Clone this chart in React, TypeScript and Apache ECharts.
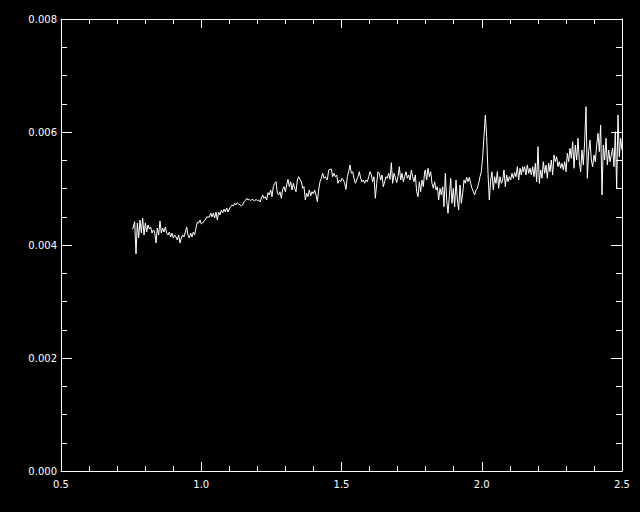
import React, { useEffect, useRef } from "react";
import * as echarts from "echarts";

// Wavelength (x) and flux (y), split into segments
const waveA = [0.7555, 0.7626, 0.7674, 0.7721, 0.7769, 0.7816, 0.7864, 0.7911, 0.7959, 0.8007, 0.8054, 0.8102, 0.8149, 0.8197, 0.8244, 0.8292, 0.8339, 0.8387, 0.8434, 0.8482, 0.8529, 0.8577, 0.8624, 0.8672, 0.8720, 0.8767, 0.8815, 0.8862, 0.8910, 0.8957, 0.9005, 0.9052, 0.9100, 0.9147, 0.9195, 0.9242, 0.9290, 0.9338, 0.9385, 0.9433, 0.9480, 0.9528, 0.9575, 0.9623, 0.9670, 0.9718, 0.9765, 0.9813, 0.9860, 0.9908, 0.9955, 1.0003, 1.0051, 1.0098, 1.0146, 1.0193, 1.0241, 1.0288, 1.0336, 1.0383, 1.0431, 1.0478, 1.0526, 1.0573, 1.0621, 1.0668, 1.0716, 1.0764, 1.0811, 1.0859, 1.0906, 1.0954, 1.1001];
const fluxA = [0.004278, 0.004412, 0.003841, 0.004389, 0.004124, 0.004442, 0.004212, 0.004478, 0.004177, 0.004389, 0.004230, 0.004354, 0.004283, 0.004319, 0.004212, 0.004265, 0.004230, 0.004035, 0.004301, 0.004177, 0.004425, 0.004212, 0.004301, 0.004230, 0.004319, 0.004212, 0.004177, 0.004230, 0.004142, 0.004212, 0.004124, 0.004177, 0.004142, 0.004088, 0.004177, 0.004035, 0.004124, 0.004177, 0.004142, 0.004230, 0.004319, 0.004177, 0.004124, 0.004212, 0.004142, 0.004230, 0.004177, 0.004301, 0.004407, 0.004389, 0.004442, 0.004372, 0.004389, 0.004425, 0.004442, 0.004496, 0.004496, 0.004496, 0.004566, 0.004496, 0.004566, 0.004478, 0.004584, 0.004442, 0.004584, 0.004531, 0.004619, 0.004566, 0.004637, 0.004584, 0.004655, 0.004584, 0.004637];

const waveB = [1.1049, 1.1096, 1.1144, 1.1191, 1.1239, 1.1286, 1.1334, 1.1382, 1.1429, 1.1477, 1.1524, 1.1572, 1.1619, 1.1667, 1.1714, 1.1762, 1.1809, 1.1857, 1.1904, 1.1952, 1.2000, 1.2047, 1.2095, 1.2142, 1.2190, 1.2237, 1.2285, 1.2332, 1.2380, 1.2427, 1.2475, 1.2522, 1.2570, 1.2617, 1.2665, 1.2713, 1.2760, 1.2808, 1.2855, 1.2903, 1.2950, 1.2998, 1.3045, 1.3093, 1.3140, 1.3188, 1.3235, 1.3283, 1.3330, 1.3378, 1.3426, 1.3473, 1.3521, 1.3568, 1.3616, 1.3663, 1.3711, 1.3758, 1.3806, 1.3853, 1.3901, 1.3948, 1.3996, 1.4043, 1.4091, 1.4139, 1.4186, 1.4234, 1.4281, 1.4329, 1.4376, 1.4424, 1.4471];
const fluxB = [0.004678, 0.004708, 0.004690, 0.004738, 0.004708, 0.004749, 0.004726, 0.004708, 0.004690, 0.004708, 0.004766, 0.004784, 0.004827, 0.004796, 0.004809, 0.004784, 0.004809, 0.004796, 0.004779, 0.004809, 0.004784, 0.004796, 0.004761, 0.004827, 0.004885, 0.004827, 0.004855, 0.004796, 0.004926, 0.004885, 0.004973, 0.004855, 0.005032, 0.005092, 0.005120, 0.004915, 0.004885, 0.004943, 0.004827, 0.004986, 0.005032, 0.004943, 0.005062, 0.005163, 0.005032, 0.005120, 0.004973, 0.005092, 0.005004, 0.004943, 0.005150, 0.005209, 0.005163, 0.005120, 0.005004, 0.005032, 0.004796, 0.004915, 0.004855, 0.004973, 0.004867, 0.004943, 0.004903, 0.004973, 0.004885, 0.004766, 0.004973, 0.005120, 0.005181, 0.005269, 0.005181, 0.005209, 0.005163];

const waveC = [1.4495, 1.4543, 1.4590, 1.4638, 1.4685, 1.4733, 1.4780, 1.4828, 1.4875, 1.4923, 1.4970, 1.5018, 1.5065, 1.5113, 1.5160, 1.5208, 1.5256, 1.5303, 1.5351, 1.5398, 1.5446, 1.5493, 1.5541, 1.5588, 1.5636, 1.5683, 1.5731, 1.5778, 1.5826, 1.5873, 1.5921, 1.5969, 1.6016, 1.6064, 1.6111, 1.6159, 1.6206, 1.6254, 1.6301, 1.6349, 1.6396, 1.6444, 1.6491, 1.6539, 1.6586, 1.6634, 1.6682, 1.6729, 1.6777, 1.6824, 1.6872, 1.6919, 1.6967, 1.7014, 1.7062, 1.7109, 1.7157, 1.7204, 1.7252, 1.7299, 1.7347, 1.7395, 1.7442, 1.7490, 1.7537, 1.7585, 1.7632, 1.7680, 1.7727, 1.7775, 1.7822, 1.7870, 1.7917, 1.7965];
const fluxC = [0.005150, 0.005327, 0.005340, 0.005345, 0.005209, 0.005269, 0.005209, 0.005239, 0.005092, 0.005150, 0.005120, 0.005181, 0.005150, 0.005092, 0.004986, 0.005209, 0.005297, 0.005416, 0.005269, 0.005297, 0.005181, 0.005092, 0.005150, 0.005209, 0.005297, 0.005181, 0.005120, 0.005150, 0.005092, 0.005150, 0.005120, 0.005209, 0.005297, 0.005239, 0.005120, 0.005209, 0.004827, 0.005092, 0.005297, 0.005269, 0.005150, 0.005239, 0.005032, 0.005120, 0.005209, 0.005181, 0.005269, 0.005163, 0.005457, 0.005092, 0.005269, 0.005198, 0.005103, 0.005209, 0.005386, 0.005150, 0.005269, 0.005120, 0.005209, 0.005297, 0.005181, 0.005239, 0.005150, 0.005327, 0.005209, 0.005120, 0.005239, 0.004943, 0.004855, 0.005120, 0.004943, 0.005150, 0.005032, 0.005297];

const waveD = [1.7989, 1.8036, 1.8084, 1.8131, 1.8179, 1.8226, 1.8274, 1.8321, 1.8369, 1.8416, 1.8464, 1.8512, 1.8559, 1.8607, 1.8654, 1.8702, 1.8749, 1.8797, 1.8844, 1.8892, 1.8939, 1.8987, 1.9034, 1.9082, 1.9130, 1.9177, 1.9225, 1.9272, 1.9320, 1.9367, 1.9415, 1.9462, 1.9510, 1.9557, 1.9605, 1.9652, 1.9700, 1.9747, 1.9795, 1.9843, 1.9890, 1.9938, 1.9985, 2.0033, 2.0080, 2.0128, 2.0175, 2.0223, 2.0270, 2.0318, 2.0365, 2.0413, 2.0460, 2.0508, 2.0556, 2.0603, 2.0651, 2.0698, 2.0746, 2.0793, 2.0841, 2.0888, 2.0936, 2.0983, 2.1031, 2.1078, 2.1126, 2.1173, 2.1221, 2.1269, 2.1316, 2.1364, 2.1411, 2.1459];
const fluxD = [0.005327, 0.005150, 0.005358, 0.005209, 0.005297, 0.005092, 0.005004, 0.005120, 0.004973, 0.005032, 0.004796, 0.005004, 0.004885, 0.005032, 0.004678, 0.005269, 0.004796, 0.004561, 0.004855, 0.005181, 0.004738, 0.005004, 0.004678, 0.005150, 0.004796, 0.004619, 0.005062, 0.004738, 0.004915, 0.005150, 0.005092, 0.005198, 0.005120, 0.005198, 0.005092, 0.005004, 0.004943, 0.004885, 0.004973, 0.005004, 0.005092, 0.005209, 0.005297, 0.005563, 0.005917, 0.006301, 0.005917, 0.005269, 0.004796, 0.005150, 0.005297, 0.004973, 0.005209, 0.005092, 0.005297, 0.005004, 0.005209, 0.005092, 0.005150, 0.005327, 0.005032, 0.005239, 0.005120, 0.005209, 0.005150, 0.005269, 0.005181, 0.005280, 0.005209, 0.005386, 0.005150, 0.005358, 0.005239, 0.005386];

const waveE = [2.1482, 2.1530, 2.1578, 2.1625, 2.1673, 2.1720, 2.1768, 2.1815, 2.1863, 2.1910, 2.1958, 2.2005, 2.2053, 2.2100, 2.2148, 2.2195, 2.2243, 2.2291, 2.2338, 2.2386, 2.2433, 2.2481, 2.2528, 2.2576, 2.2623, 2.2671, 2.2718, 2.2766, 2.2813, 2.2861, 2.2908, 2.2956, 2.3004, 2.3051, 2.3099, 2.3146, 2.3194, 2.3241, 2.3289, 2.3336, 2.3384, 2.3431, 2.3479, 2.3526, 2.3574, 2.3621, 2.3669, 2.3717, 2.3764, 2.3812, 2.3859, 2.3907, 2.3954, 2.4002, 2.4049, 2.4097, 2.4144, 2.4192, 2.4239, 2.4287, 2.4334, 2.4382, 2.4430, 2.4477, 2.4525, 2.4572, 2.4620, 2.4667, 2.4715, 2.4762, 2.4810, 2.4857, 2.4905, 2.4952, 2.5000];
const fluxE = [0.005297, 0.005386, 0.005239, 0.005416, 0.005269, 0.005358, 0.005239, 0.005386, 0.005209, 0.005446, 0.005120, 0.005740, 0.005092, 0.005327, 0.005181, 0.005474, 0.005269, 0.005416, 0.005181, 0.005446, 0.005297, 0.005504, 0.005239, 0.005593, 0.005474, 0.005563, 0.005386, 0.005474, 0.005358, 0.005446, 0.005327, 0.005474, 0.005297, 0.005623, 0.005474, 0.005712, 0.005535, 0.005828, 0.005358, 0.005770, 0.005504, 0.005888, 0.005474, 0.005297, 0.005681, 0.005416, 0.005828, 0.006448, 0.005181, 0.005651, 0.005858, 0.005504, 0.005386, 0.005593, 0.005474, 0.005770, 0.005977, 0.005651, 0.006124, 0.004885, 0.005770, 0.005504, 0.005888, 0.005416, 0.005681, 0.005474, 0.005593, 0.005712, 0.005386, 0.006005, 0.005004, 0.006301, 0.005563, 0.005888, 0.005681];

const xMin = 0.5, xMax = 2.5, xStep = 0.5;
const yMin = 0, yMax = 0.008, yStep = 0.002;

const waves = [waveA, waveB, waveC, waveD, waveE];
const fluxes = [fluxA, fluxB, fluxC, fluxD, fluxE];

export default function App() {
  const ref = useRef<HTMLDivElement>(null);
  useEffect(() => {
    if (!ref.current) return;
    const chart = echarts.init(ref.current, null, { renderer: "svg" });
    const data: number[][] = [];
    waves.forEach((w, i) => w.forEach((x, j) => data.push([x, fluxes[i][j]])));
    const white = "#ffffff";
    const font = { color: white, fontSize: 10, fontFamily: "DejaVu Sans" };
    const xBase = (pos: "bottom" | "top", labels: boolean) => ({
      type: "value" as const,
      position: pos,
      min: xMin,
      max: xMax,
      interval: xStep,
      axisLine: { show: true, onZero: false, lineStyle: { color: white, width: 1 } },
      axisTick: { show: true, inside: true, length: 9, lineStyle: { color: white, width: 1 } },
      minorTick: { show: true, splitNumber: 5, length: 5, lineStyle: { color: white, width: 1 } },
      splitLine: { show: false },
      minorSplitLine: { show: false },
      axisLabel: { show: labels, ...font, margin: 8, formatter: (v: number) => v.toFixed(1) },
    });
    const yBase = (pos: "left" | "right", labels: boolean) => ({
      type: "value" as const,
      position: pos,
      min: yMin,
      max: yMax,
      interval: yStep,
      axisLine: { show: true, onZero: false, lineStyle: { color: white, width: 1 } },
      axisTick: { show: true, inside: true, length: 11, lineStyle: { color: white, width: 1 } },
      minorTick: { show: true, splitNumber: 4, length: 6, lineStyle: { color: white, width: 1 } },
      splitLine: { show: false },
      minorSplitLine: { show: false },
      axisLabel: { show: labels, ...font, margin: 4, formatter: (v: number) => v.toFixed(3) },
    });
    chart.setOption({
      animation: false,
      backgroundColor: "#000000",
      grid: { left: 61, right: 18, top: 19, bottom: 41, show: false },
      xAxis: [xBase("bottom", true), xBase("top", false)],
      yAxis: [yBase("left", true), yBase("right", false)],
      series: [
        {
          type: "line",
          xAxisIndex: 0,
          yAxisIndex: 0,
          data,
          showSymbol: false,
          symbol: "none",
          clip: true,
          lineStyle: { color: white, width: 1 },
        },
      ],
    });
    return () => chart.dispose();
  }, []);
  return (
    <div
      ref={ref}
      style={{ position: "fixed", left: 0, top: 0, width: 640, height: 512, background: "#000" }}
    />
  );
}
